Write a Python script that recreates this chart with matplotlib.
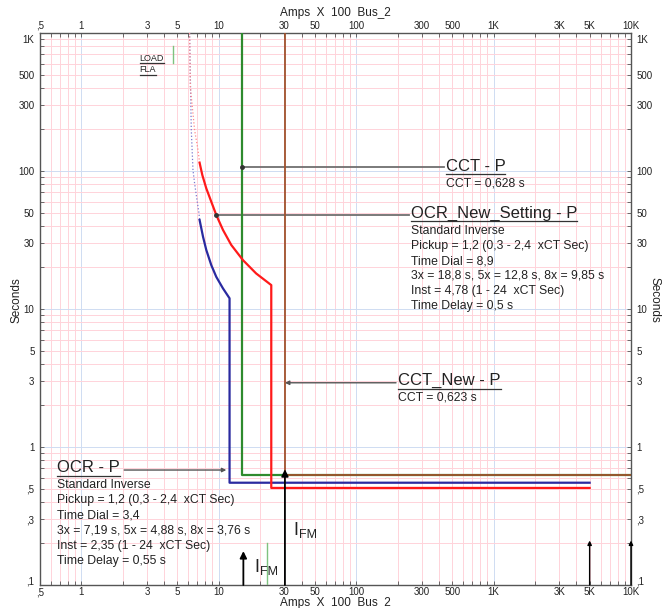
import numpy as np
import matplotlib.pyplot as plt
import matplotlib.transforms as mtransforms
from matplotlib.lines import Line2D

plt.rcParams['font.family'] = ['Liberation Sans', 'DejaVu Sans']

W, H = 665, 608

# tick values and labels
x_ticks = [0.5, 1, 3, 5, 10, 30, 50, 100, 300, 500, 1000, 3000, 5000, 10000]
x_labels = [",5", "1", "3", "5", "10", "30", "50", "100", "300", "500", "1K", "3K", "5K", "10K"]
y_ticks = [0.1, 0.3, 0.5, 1, 3, 5, 10, 30, 50, 100, 300, 500, 1000]
y_labels = [",1", ",3", ",5", "1", "3", "5", "10", "30", "50", "100", "300", "500", "1K"]

# OCR - P (blue) curve
ocr_dot_x = [6.13, 6.31, 6.49, 6.67, 6.94, 7.18, 7.25]
ocr_dot_t = [1000, 198, 101.7, 81.4, 61.6, 49.4, 44.2]
ocr_x = [7.25, 7.68, 8.11, 8.82, 9.59, 10.73, 11.98, 11.98, 5000]
ocr_t = [44.2, 33.4, 26.8, 20.8, 17.1, 14.1, 11.95, 0.551, 0.551]

# OCR_New_Setting - P (red) curve
new_dot_x = [6.13, 6.21, 6.67, 7.06, 7.25]
new_dot_t = [1000, 406, 198, 142, 114.9]
new_x = [7.25, 7.59, 8.11, 8.82, 9.59, 10.73, 12.33, 15.0, 18.7, 24.1, 24.1, 5000]
new_t = [114.9, 93.5, 74.9, 59.9, 48.0, 37.4, 29.1, 22.6, 18.1, 14.9, 0.505, 0.505]

# CCT lines
cct_x, cct_t = 14.8, 0.628
cct_new_x, cct_new_t = 30.3, 0.623

# load FLA and fault current markers
fla_x, fla_t = [4.64, 4.64], [605, 805]
ifm_small_x, ifm_small_t = 15.1, 0.176
ifm_big_x, ifm_big_t = 30.3, 0.69
green_mark_x, green_mark_t = 22.4, 0.2
right_arrows_x, right_arrows_t = [5000, 10000], 0.21

fig = plt.figure(figsize=(W / 100, H / 100), dpi=100)
ax = fig.add_axes([40 / W, 1 - 585 / H, 591 / W, 552 / H])
ax.set_xscale('log')
ax.set_yscale('log')
ax.set_xlim(0.5, 10000)
ax.set_ylim(0.1, 1000)

# grid: pink for 2..9, light blue at decades
for dec in [0.1, 1, 10, 100, 1000]:
    for k in range(1, 10):
        v = dec * k
        if 0.5 <= v <= 10000:
            ax.axvline(v, color='#cfdcf2' if k == 1 else '#ffd3da', lw=0.7, zorder=0)
for dec in [0.1, 1, 10, 100]:
    for k in range(1, 10):
        v = dec * k
        ax.axhline(v, color='#cfdcf2' if k == 1 else '#ffd3da', lw=0.7, zorder=0)

# ticks
minor_x = [d * k for d in [0.1, 1, 10, 100, 1000] for k in range(2, 10) if 0.5 < d * k < 10000]
minor_y = [d * k for d in [0.1, 1, 10, 100] for k in range(2, 10)]
ax.set_xticks(x_ticks, x_labels)
ax.set_yticks(y_ticks, y_labels)
ax.set_xticks(minor_x, minor=True)
ax.set_yticks(minor_y, minor=True)
ax.xaxis.set_minor_formatter(plt.NullFormatter())
ax.yaxis.set_minor_formatter(plt.NullFormatter())
ax.tick_params(which='both', direction='in', length=3, width=0.6, color='#555555',
               top=True, right=True, labeltop=True, labelright=True,
               labelsize=7, labelcolor='#222222', pad=4)
ax.tick_params(axis='x', which='major', labelbottom=True, pad=1.5)
for s in ax.spines.values():
    s.set_color('#555555')
    s.set_linewidth(1.0)

# end labels on the y axis sit a little inside the frame
yticks = ax.yaxis.get_major_ticks()
up = mtransforms.ScaledTranslation(0, 5 / 100, fig.dpi_scale_trans)
down = mtransforms.ScaledTranslation(0, -6 / 100, fig.dpi_scale_trans)
for lab in (yticks[0].label1, yticks[0].label2):
    lab.set_transform(lab.get_transform() + up)
for lab in (yticks[-1].label1, yticks[-1].label2):
    lab.set_transform(lab.get_transform() + down)

# curves
ax.plot(ocr_dot_x, ocr_dot_t, color='#7a7ad0', lw=0.9, ls=':', zorder=3)
ax.plot(new_dot_x, new_dot_t, color='#ff8a8a', lw=0.9, ls=':', zorder=3)
ax.plot([cct_x, cct_x, 10000], [1000, cct_t, cct_t], color='#2e8b2e', lw=1.6, zorder=4)
ax.plot([cct_new_x, cct_new_x, 10000], [1000, cct_new_t, cct_new_t], color='#a0522d', lw=1.3, zorder=5)
ax.plot(ocr_x, ocr_t, color='#2a2aa0', lw=1.6, zorder=4)
ax.plot(new_x, new_t, color='#ff1a1a', lw=1.6, zorder=4)

ax.plot(fla_x, fla_t, color='#7fc27f', lw=1.0, zorder=4)
ax.plot([green_mark_x, green_mark_x], [0.1, green_mark_t], color='#7fc27f', lw=1.0, zorder=4)

# arrows
arr = dict(arrowstyle='-|>', color='black', lw=1.3, mutation_scale=10, shrinkA=0, shrinkB=0)
ax.annotate('', xy=(ifm_big_x, ifm_big_t), xytext=(ifm_big_x, 0.1), arrowprops=arr,
            zorder=6, annotation_clip=False)
ax.annotate('', xy=(ifm_small_x, ifm_small_t), xytext=(ifm_small_x, 0.1), arrowprops=arr,
            zorder=6, annotation_clip=False)
for xa in right_arrows_x:
    ax.annotate('', xy=(xa, right_arrows_t), xytext=(xa, 0.1),
                arrowprops=dict(arrowstyle='-|>', color='black', lw=1.0, mutation_scale=6,
                                shrinkA=0, shrinkB=0), zorder=6, annotation_clip=False)

# leader lines
lead = dict(color='#707070', lw=1.3)
ax.plot([cct_x, 436], [107, 107], **lead, zorder=3)
ax.plot([cct_x], [107], 'o', color='#333333', ms=2.5, zorder=6)
ax.plot([9.59, 243], [48.0, 48.0], **lead, zorder=3)
ax.plot([9.59], [48.0], 'o', color='#333333', ms=2.5, zorder=6)
ax.annotate('', xy=(cct_new_x, 2.92), xytext=(195, 2.92),
            arrowprops=dict(arrowstyle='-|>', color='#555555', lw=1.0, mutation_scale=6,
                            shrinkA=0, shrinkB=0))
ax.annotate('', xy=(11.35, 0.681), xytext=(2.05, 0.681),
            arrowprops=dict(arrowstyle='-|>', color='#555555', lw=1.0, mutation_scale=6,
                            shrinkA=0, shrinkB=0))

# texts
def ftxt(x, y, s, size=8.8, **kw):
    return fig.text(x / W, 1 - y / H, s, fontsize=size, va='baseline', ha='left',
                    color='#222222', **kw)

underlined = []
underlined.append((ftxt(445.7, 170.7, "CCT - P", size=12), 170.7))
ftxt(445.7, 186.7, "CCT = 0,628 s")
underlined.append((ftxt(410.7, 217.5, "OCR_New_Setting - P", size=12), 217.5))
new_lines = ["Standard Inverse", "Pickup = 1,2 (0,3 - 2,4  xCT Sec)", "Time Dial = 8,9",
             "3x = 18,8 s, 5x = 12,8 s, 8x = 9,85 s", "Inst = 4,78 (1 - 24  xCT Sec)",
             "Time Delay = 0,5 s"]
for i, s in enumerate(new_lines):
    ftxt(410.7, 234 + i * 15, s)
underlined.append((ftxt(398, 385, "CCT_New - P", size=12), 385))
ftxt(398, 400, "CCT = 0,623 s")
underlined.append((ftxt(57.3, 472.3, "OCR - P", size=12), 472.3))
ocr_lines = ["Standard Inverse", "Pickup = 1,2 (0,3 - 2,4  xCT Sec)", "Time Dial = 3,4",
             "3x = 7,19 s, 5x = 4,88 s, 8x = 3,76 s", "Inst = 2,35 (1 - 24  xCT Sec)",
             "Time Delay = 0,55 s"]
for i, s in enumerate(ocr_lines):
    ftxt(57.3, 488.3 + i * 15.1, s)
underlined.append((ftxt(139.5, 61, "LOAD", size=6.5), 61))
underlined.append((ftxt(139.5, 72.5, "FLA", size=6.5), 72.5))

ftxt(293, 535, "I", size=13)
ftxt(299, 538, "FM", size=9)
ftxt(254, 572, "I", size=13)
ftxt(260, 575, "FM", size=9)

fig.text(335 / W, 1 - 16 / H, "Amps  X  100  Bus_2", fontsize=8.5, ha='center', va='baseline',
         color='#222222')
fig.text(335 / W, 1 - 606 / H, "Amps  X  100  Bus_2", fontsize=8.5, ha='center', va='baseline',
         color='#222222')
fig.text(16 / W, 1 - 300 / H, "Seconds", fontsize=8.5, rotation=90, ha='center', va='center',
         color='#222222')
fig.text(655 / W, 1 - 300 / H, "Seconds", fontsize=8.5, rotation=270, ha='center', va='center',
         color='#222222')

fig.canvas.draw()
r = fig.canvas.get_renderer()
for t, yb in underlined:
    bb = t.get_window_extent(r)
    off = 3.5 if t.get_fontsize() > 10 else 2
    yl = 1 - (yb + off) / H
    fig.add_artist(Line2D([bb.x0 / W, bb.x1 / W], [yl, yl], color='#333333', lw=0.9,
                          transform=fig.transFigure))

fig.savefig('out.png', dpi=100)
